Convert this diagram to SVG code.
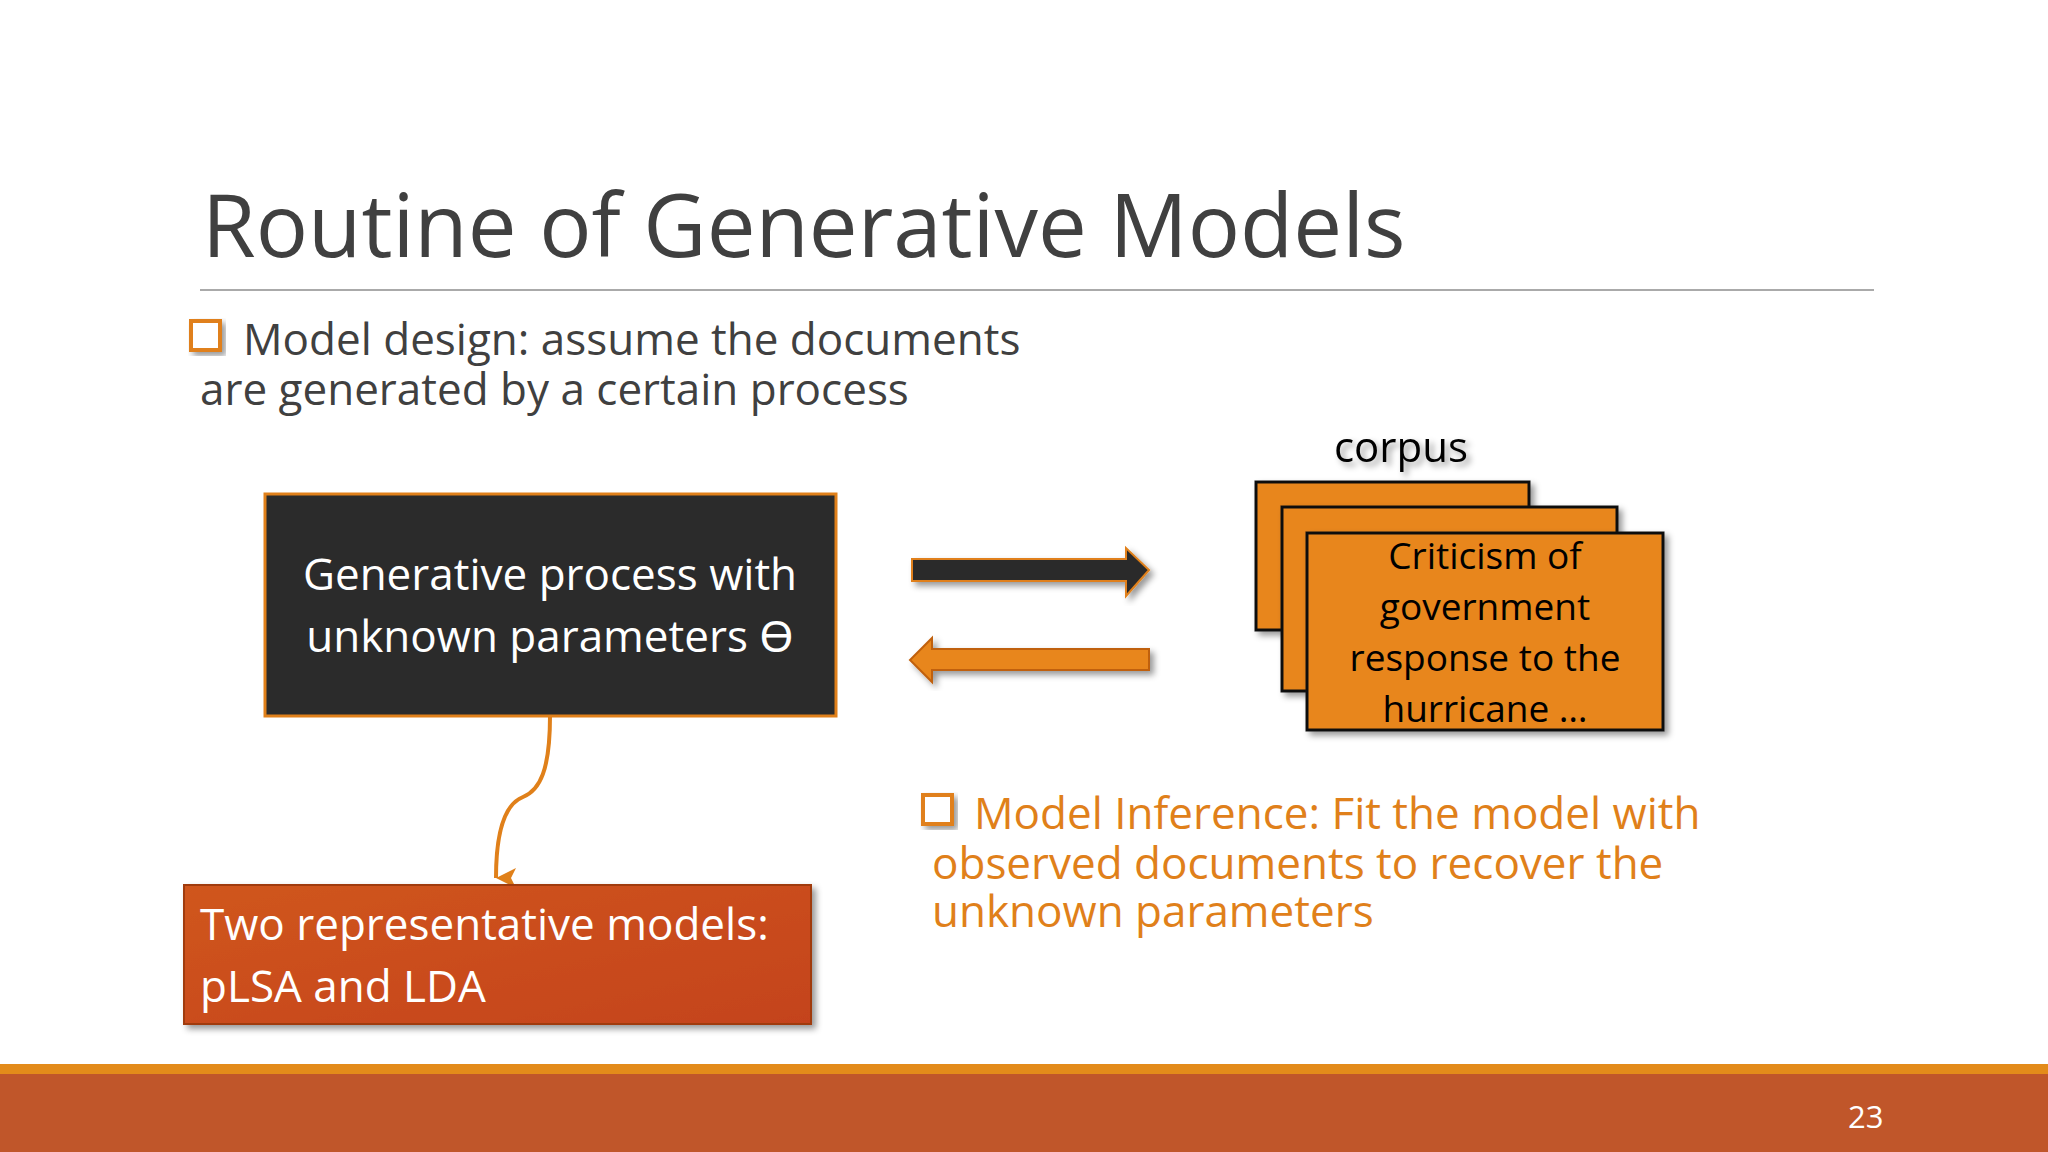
<svg xmlns="http://www.w3.org/2000/svg" width="2048" height="1152" viewBox="0 0 2048 1152">
<style>
text{font-family:"Open Sans","Noto Sans","Liberation Sans",sans-serif}
.g{fill:#404040;font-size:44px}
.w{fill:#fff;font-size:44px}
.o{fill:#e0801a;font-size:44px}
.d{fill:#e8861a;stroke:#111;stroke-width:3}
.k{fill:#000;font-size:37px;text-anchor:middle}
</style>
<defs>
<filter id="sh" x="-10%" y="-10%" width="130%" height="130%"><feDropShadow dx="4" dy="4" stdDeviation="3" flood-opacity="0.4"/></filter>
<linearGradient id="og" x1="0" y1="0" x2="1" y2="1"><stop offset="0" stop-color="#d0561e"/><stop offset="1" stop-color="#c4431a"/></linearGradient>
<marker id="ah" markerWidth="20" markerHeight="20" refX="8" refY="16" orient="auto" markerUnits="userSpaceOnUse" viewBox="0 0 16 16"><path d="M0,0 L8,16 L16,0 L8,4 Z" fill="#e0801a"/></marker>
</defs>
<rect width="2048" height="1152" fill="#fff"/>
<text x="202" y="257" style="font-size:87px;fill:#404040">Routine of Generative Models</text>
<line x1="200" y1="290" x2="1874" y2="290" stroke="#aaa" stroke-width="2"/>
<g id="bullet1">
<rect x="191" y="321" width="29" height="29" fill="#fff" stroke="#e0801a" stroke-width="4" filter="url(#sh)"/>
<text class="g" x="243" y="355">Model design: assume the documents</text>
<text class="g" x="200" y="405">are generated by a certain process</text>
</g>
<g id="process">
<rect x="265" y="494" width="571" height="222" fill="#2b2b2b" stroke="#e0801a" stroke-width="3"/>
<text class="w" x="550" y="590" text-anchor="middle">Generative process with</text>
<text class="w" x="550" y="652" text-anchor="middle">unknown parameters ϴ</text>
</g>
<g id="connectors">
<path d="M912,559 H1126 V548 L1149,570 L1126,596 V581 H912 Z" fill="#2b2b2b" stroke="#e0801a" stroke-width="2" filter="url(#sh)"/>
<path d="M1149,649 H932 V638 L910,660 L932,682 V670 H1149 Z" fill="#e8861a" stroke="#c06010" stroke-width="2" filter="url(#sh)"/>
<path d="M550,716 C550,770 540,790 523,797 C505,804 496,830 496,878" fill="none" stroke="#e0801a" stroke-width="4" marker-end="url(#ah)"/>
</g>
<g id="models">
<rect x="184" y="885" width="627" height="139" fill="url(#og)" stroke="#a03a10" stroke-width="2" filter="url(#sh)"/>
<text class="w" x="200" y="940">Two representative models:</text>
<text class="w" x="200" y="1002">pLSA and LDA</text>
</g>
<g id="corpus">
<text x="1401" y="462" text-anchor="middle" style="font-size:42px;fill:#000" filter="url(#sh)">corpus</text>
<rect class="d" x="1256" y="482" width="273" height="148" filter="url(#sh)"/>
<rect class="d" x="1282" y="507" width="335" height="184" filter="url(#sh)"/>
<rect class="d" x="1307" y="533" width="356" height="197" filter="url(#sh)"/>
<text class="k" x="1485" y="569">Criticism of</text>
<text class="k" x="1485" y="620">government</text>
<text class="k" x="1485" y="671">response to the</text>
<text class="k" x="1485" y="722">hurricane …</text>
</g>
<g id="bullet2">
<rect x="923" y="795" width="29" height="29" fill="#fff" stroke="#e0801a" stroke-width="4" filter="url(#sh)"/>
<text class="o" x="974" y="829">Model Inference: Fit the model with</text>
<text class="o" x="932" y="879">observed documents to recover the</text>
<text class="o" x="932" y="927">unknown parameters</text>
</g>
<rect x="0" y="1064" width="2048" height="10" fill="#e38b1a"/>
<rect x="0" y="1074" width="2048" height="78" fill="#c0562a"/>
<text x="1848" y="1128" style="font-size:31px;fill:#fff">23</text>
</svg>
